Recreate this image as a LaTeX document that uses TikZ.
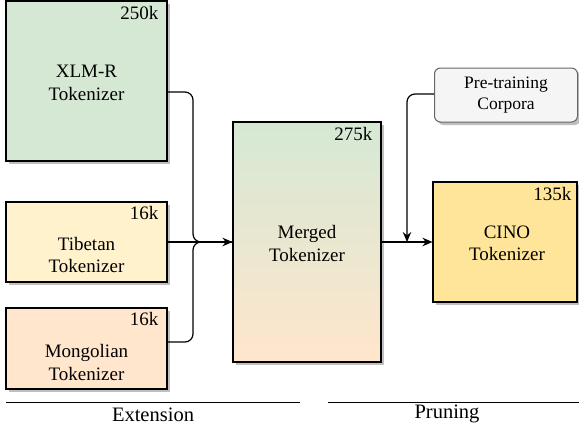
\documentclass[tikz,border=0pt]{standalone}
\usepackage{fontspec}
\setmainfont{Liberation Serif}
\usetikzlibrary{arrows.meta,shadows,positioning}
\definecolor{cgreen}{HTML}{D5E8D4}
\definecolor{cyellow}{HTML}{FFF2CC}
\definecolor{corange}{HTML}{FFE6CC}
\definecolor{cgold}{HTML}{FFE599}
\definecolor{cgrayfill}{HTML}{F5F5F5}
\definecolor{cgrayline}{HTML}{666666}
\tikzset{
  tokbox/.style={draw=black, line width=1.1pt, rectangle, inner sep=0pt,
    drop shadow={shadow xshift=3pt, shadow yshift=-3pt, fill=black, opacity=0.25}},
  maintext/.style={font=\fontsize{19}{22.5}\selectfont, align=center, inner sep=0pt},
  counttext/.style={font=\fontsize{19}{22}\selectfont, anchor=north east, inner sep=0pt},
  conn/.style={line width=1.2pt, rounded corners=8pt},
  arr/.style={conn, -{Stealth[length=10pt,width=8.5pt]}},
}
\begin{document}
\begin{tikzpicture}[x=1pt,y=-1pt]
\useasboundingbox (0,0) rectangle (579,432);
% boxes
\node[tokbox, fill=cgreen, minimum width=161pt, minimum height=160pt] (xlmr) at (86.5,81) {};
\node[maintext] (xlmrt) at (86.5,83) {XLM-R\\Tokenizer};
\node[counttext] (xlmrc) at ([xshift=-9pt,yshift=-6pt]xlmr.north east) {250k};

\node[tokbox, fill=cyellow, minimum width=161pt, minimum height=80pt] (tib) at (86.5,242) {};
\node[maintext] (tibt) at (86.5,255) {Tibetan\\Tokenizer};
\node[counttext] (tibc) at ([xshift=-9pt,yshift=-5pt]tib.north east) {16k};

\node[tokbox, fill=corange, minimum width=161pt, minimum height=81pt] (mon) at (86.5,348.5) {};
\node[maintext] (mont) at (86.5,362.5) {Mongolian\\Tokenizer};
\node[counttext] (monc) at ([xshift=-9pt,yshift=-5pt]mon.north east) {16k};

\node[tokbox, top color=cgreen, bottom color=corange, minimum width=148pt, minimum height=240pt] (merged) at (307,242) {};
\node[maintext] (mergedt) at (307,243.5) {Merged\\Tokenizer};
\node[counttext] (mergedc) at ([xshift=-9pt,yshift=-6pt]merged.north east) {275k};

\node[tokbox, fill=cgold, minimum width=144pt, minimum height=120pt] (cino) at (505,242) {};
\node[maintext] (cinot) at (507,243.5) {CINO\\Tokenizer};
\node[counttext] (cinoc) at ([xshift=-6pt,yshift=-6pt]cino.north east) {135k};

\node[draw=cgrayline, fill=cgrayfill, line width=1pt, rounded corners=6pt,
  minimum width=143pt, minimum height=54pt, inner sep=0pt, align=center,
  font=\fontsize{17.5}{21}\selectfont,
  drop shadow={shadow xshift=3pt, shadow yshift=-3pt, fill=black, opacity=0.25}]
  (corp) at (506,95) {Pre-training\\Corpora};

% connectors
\coordinate (k) at (407,242);
\draw[conn] (xlmr.east |- 0,92) -- (193,92) -- (193,242) -- (merged.west);
\draw[conn] (mon.east |- 0,342) -- (193,342) -- (193,242) -- (merged.west);
\draw[arr] (tib.east) -- (merged.west);
\draw[arr] (merged.east) -- (cino.west);
\draw[arr] (corp.west |- 0,94) -- (407,94) -- (k);

% stage lines
\draw[line width=1pt] (6,402) -- (300,402);
\draw[line width=1pt] (328,402) -- (579,402);
\node[font=\fontsize{20.5}{24}\selectfont, inner sep=0pt] (ext) at (153,415) {Extension};
\node[font=\fontsize{20.5}{24}\selectfont, inner sep=0pt] (prun) at (447,414) {Pruning};
\end{tikzpicture}
\end{document}
